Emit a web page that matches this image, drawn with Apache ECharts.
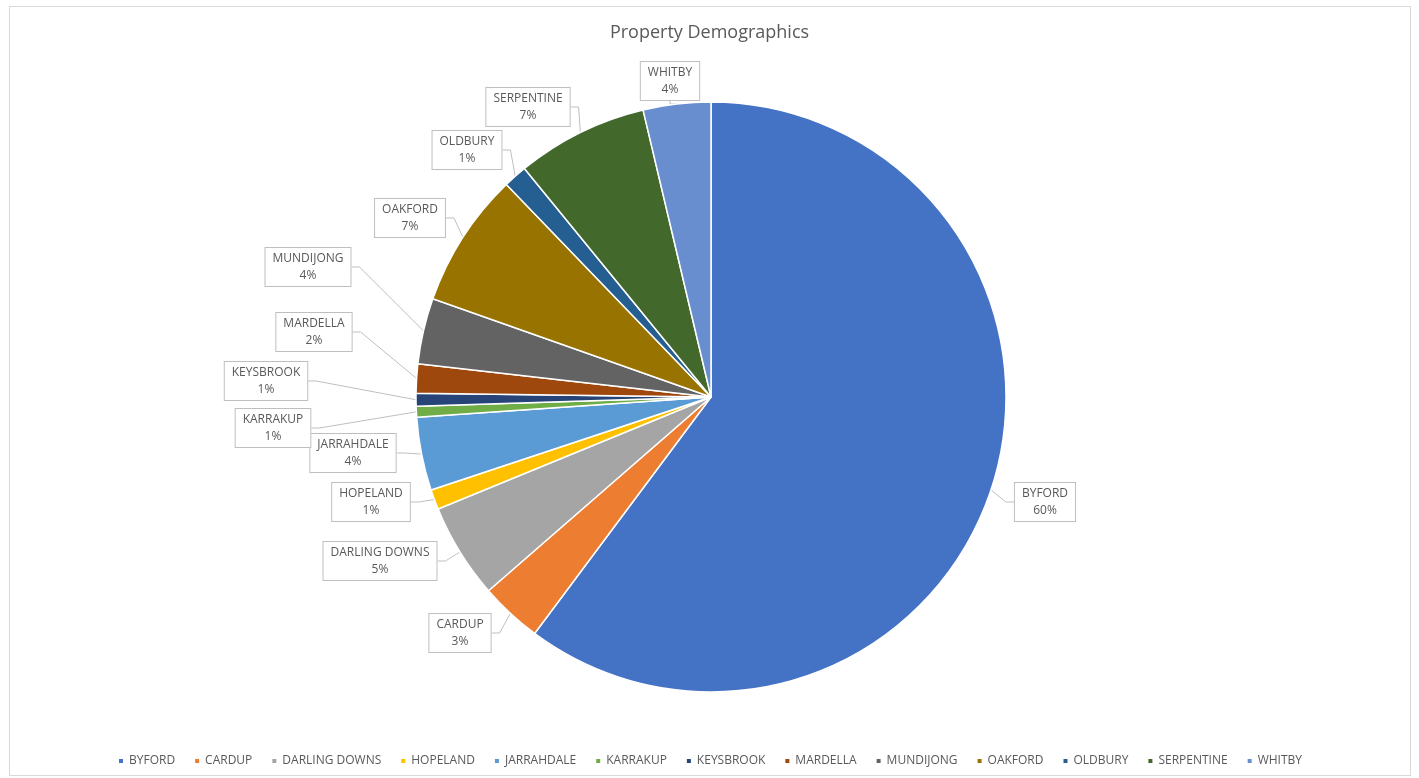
<!DOCTYPE html>
<html>
<head>
<meta charset="utf-8">
<title>Property Demographics</title>
<script src="https://cdn.jsdelivr.net/npm/echarts@6/dist/echarts.min.js"></script>
<style>
  html, body { margin: 0; padding: 0; background: #ffffff; }
  .frame {
    position: absolute;
    left: 9px; top: 6px;
    width: 1402px; height: 770px;
    border: 1px solid #d9d9d9;
    box-sizing: border-box;
  }
  #demographics { width: 1419px; height: 778px; }
</style>
</head>
<body>
<div class="frame"></div>
<div id="demographics"></div>
<script>
  // suburbs, in the order Excel draws them (clockwise from 12 o'clock)
  const suburbs = ['BYFORD', 'CARDUP', 'DARLING DOWNS', 'HOPELAND', 'JARRAHDALE', 'KARRAKUP',
    'KEYSBROOK', 'MARDELLA', 'MUNDIJONG', 'OAKFORD', 'OLDBURY', 'SERPENTINE', 'WHITBY'];
  // share of properties
  const shares = [60.2, 3.4, 5.2, 1.1, 4.0, 0.6, 0.7, 1.6, 3.6, 7.4, 1.3, 7.2, 3.7];
  // office palette
  const colours = ['#4472C4', '#ED7D31', '#A5A5A5', '#FFC000', '#5B9BD5', '#70AD47',
    '#264478', '#9E480E', '#636363', '#997300', '#255E91', '#43682B', '#698ED0'];

  // where excel dropped each callout box (box centre, px)
  const callouts = {
    'BYFORD': [1045, 502],
    'CARDUP': [460, 633],
    'DARLING DOWNS': [380, 561],
    'HOPELAND': [371, 502],
    'JARRAHDALE': [353, 453],
    'KARRAKUP': [273, 428],
    'KEYSBROOK': [266, 381],
    'MARDELLA': [314, 332],
    'MUNDIJONG': [308, 267],
    'OAKFORD': [410, 218],
    'OLDBURY': [467, 150],
    'SERPENTINE': [528, 107],
    'WHITBY': [670, 81],
  };

  const chart = echarts.init(document.getElementById('demographics'));
  chart.setOption({
    animation: false,
    color: colours,
    title: {
      text: 'Property Demographics',
      left: 'center',
      top: 19,
      textStyle: {
        fontFamily: 'Open Sans',
        fontSize: 18,
        fontWeight: 'normal',
        color: '#595959',
      },
    },
    legend: {
      bottom: 6,
      left: 'center',
      icon: 'rect',
      itemWidth: 6,
      itemHeight: 6,
      itemGap: 18,
      textStyle: {
        fontFamily: 'Open Sans',
        fontSize: 12,
        color: '#595959',
      },
      data: suburbs,
    },
    series: [
      {
        type: 'pie',
        center: [711, 397],
        radius: 295,
        startAngle: 90,
        clockwise: true,
        itemStyle: {
          borderColor: '#ffffff',
          borderWidth: 1.5,
        },
        label: {
          show: true,
          position: 'outside',
          formatter(p) {
            return '{t|' + p.name + '}\n{t|' + Math.round(p.percent) + '%}';
          },
          rich: {
            t: {
              align: 'center',
              fontFamily: 'Open Sans',
              fontSize: 12,
              lineHeight: 17,
              color: '#595959',
            },
          },
          backgroundColor: '#ffffff',
          borderColor: '#bfbfbf',
          borderWidth: 1,
          padding: [2, 7],
        },
        labelLine: {
          show: true,
          length: 14,
          length2: 8,
          lineStyle: { color: '#bfbfbf', width: 1 },
        },
        labelLayout(params) {
          const pos = callouts[suburbs[params.dataIndex]];
          return {
            x: pos[0],
            y: pos[1],
            align: 'center',
            verticalAlign: 'middle',
          };
        },
        emphasis: { disabled: true },
        data: suburbs.map((name, i) => ({ name: name, value: shares[i] })),
      },
    ],
  });
</script>
</body>
</html>
